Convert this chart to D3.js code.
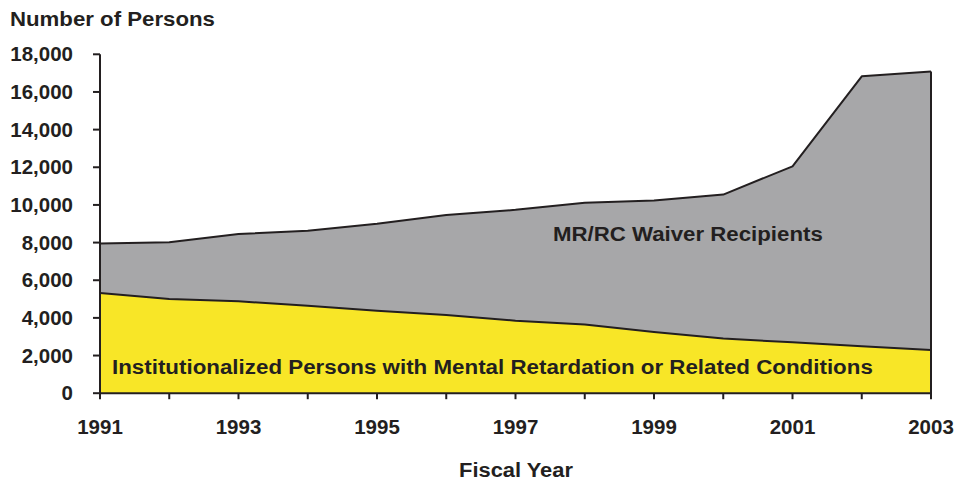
<!DOCTYPE html>
<html>
<head>
<meta charset="utf-8">
<script src="https://cdn.jsdelivr.net/npm/d3@7"></script>
<style>
  body { margin: 0; background: #fff; }
  text { font-family: "Liberation Sans", Arial, sans-serif; font-weight: bold; fill: #231f20; }
</style>
</head>
<body>
<svg id="chart" width="967" height="481"></svg>
<script>
// values
const years = [1991, 1992, 1993, 1994, 1995, 1996, 1997, 1998, 1999, 2000, 2001, 2002, 2003];
const institutionalized = [5320, 5000, 4880, 4650, 4380, 4150, 3850, 3650, 3250, 2900, 2700, 2500, 2300];
const waiverRecipients = [2630, 3020, 3570, 3980, 4620, 5310, 5890, 6470, 6980, 7650, 9350, 14330, 14780];
const yTicks = [0, 2000, 4000, 6000, 8000, 10000, 12000, 14000, 16000, 18000];
const yearLabels = [1991, 1993, 1995, 1997, 1999, 2001, 2003];

const INK = "#231f20";
const COLORS = {
    inst: "#f8e627",   // yellow
    waiver: "#a7a7a9"  // grey
};

const svg = d3.select("#chart");
const x = d3.scaleLinear().domain([1991, 2003]).range([100, 931]);
const y = d3.scaleLinear().domain([0, 18000]).range([393.2, 54.3]);

const rows = years.map((yr, i) => ({ year: yr, inst: institutionalized[i], waiver: waiverRecipients[i] }));
const series = d3.stack().keys(["inst", "waiver"])(rows);

const area = d3.area()
    .x(d => x(d.data.year))
    .y0(d => y(d[0]))
    .y1(d => y(d[1]));

svg.append("g").selectAll("path")
    .data(series)
    .join("path")
    .attr("d", area)
    .attr("fill", d => COLORS[d.key]);

// outlines on top of each band
const topLine = d3.line().x(d => x(d.data.year)).y(d => y(d[1]));
svg.append("g").selectAll("path")
    .data(series)
    .join("path")
    .attr("d", topLine)
    .attr("fill", "none")
    .attr("stroke", INK)
    .attr("stroke-width", 2)
    .attr("stroke-linejoin", "round");

// right edge of the stack
const last = series[1][series[1].length - 1];
svg.append("line")
    .attr("x1", x(last.data.year)).attr("x2", x(last.data.year))
    .attr("y1", y(last[1])).attr("y2", y(0))
    .attr("stroke", INK).attr("stroke-width", 2);

// y axis
const yAxis = svg.append("g");
yAxis.append("line")
    .attr("x1", x(1991)).attr("x2", x(1991))
    .attr("y1", y(18000)).attr("y2", y(0))
    .attr("stroke", INK).attr("stroke-width", 2);
yAxis.selectAll("line.tick")
    .data(yTicks)
    .join("line")
    .attr("class", "tick")
    .attr("x1", x(1991) - 7).attr("x2", x(1991))
    .attr("y1", d => y(d)).attr("y2", d => y(d))
    .attr("stroke", INK).attr("stroke-width", 2);
yAxis.selectAll("text")
    .data(yTicks)
    .join("text")
    .attr("x", 73)
    .attr("y", d => y(d) + 7)
    .attr("text-anchor", "end")
    .attr("font-size", 20.5)
    .text(d => d3.format(",")(d));

// x axis
const xAxis = svg.append("g");
xAxis.append("line")
    .attr("x1", x(1991) - 1).attr("x2", x(2003) + 1)
    .attr("y1", y(0)).attr("y2", y(0))
    .attr("stroke", INK).attr("stroke-width", 2);
xAxis.selectAll("line.tick")
    .data(years)
    .join("line")
    .attr("class", "tick")
    .attr("x1", d => x(d)).attr("x2", d => x(d))
    .attr("y1", y(0)).attr("y2", y(0) + 6)
    .attr("stroke", INK).attr("stroke-width", 2);
xAxis.selectAll("text")
    .data(yearLabels)
    .join("text")
    .attr("x", d => x(d))
    .attr("y", 434)
    .attr("text-anchor", "middle")
    .attr("font-size", 20.5)
    .text(d => d);

// text stretched horizontally to the width seen in the reference
function label(txt, x0, y0, size, width, anchor) {
    const g = svg.append("g");
    const t = g.append("text")
        .attr("font-size", size)
        .attr("text-anchor", anchor || "start")
        .text(txt);
    const s = width / t.node().getComputedTextLength();
    g.attr("transform", `translate(${x0},${y0}) scale(${s},1)`);
}

label("Number of Persons", 10, 26, 21, 205);
label("Fiscal Year", 516, 477, 20.5, 114, "middle");
label("MR/RC Waiver Recipients", 553, 241, 20.5, 270);
label("Institutionalized Persons with Mental Retardation or Related Conditions", 112, 374, 20.5, 761);
</script>
</body>
</html>
